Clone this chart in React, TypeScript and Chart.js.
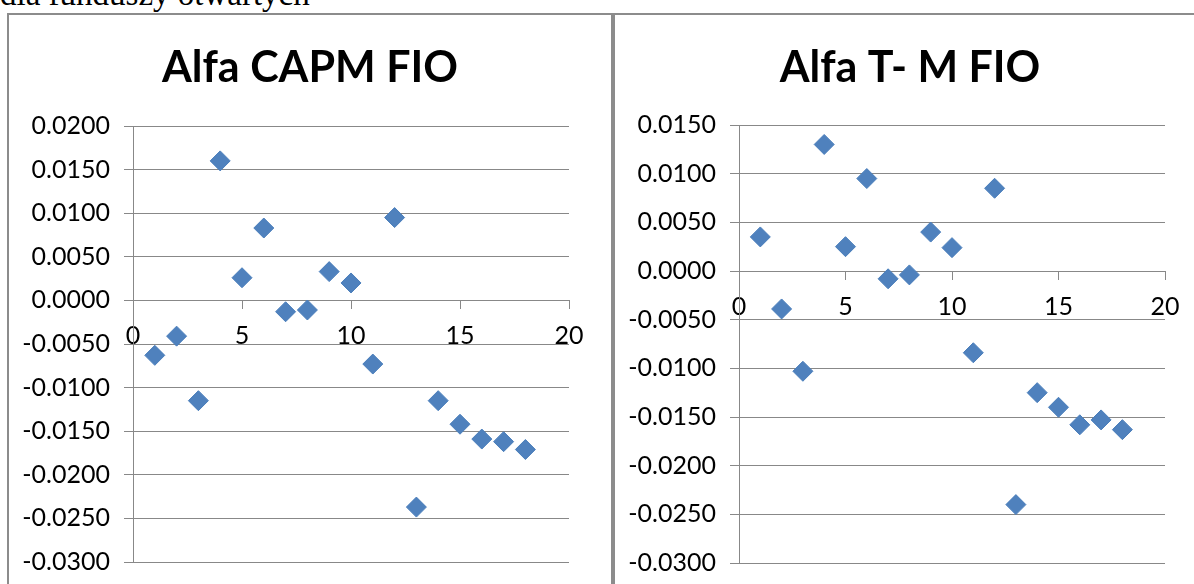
import React, { useEffect, useRef } from "react";
import { Chart, registerables } from "chart.js";

Chart.register(...registerables);

// ---- data ----
const headerText = "dla funduszy otwartych";
const capmTitle = "Alfa CAPM FIO";
const tmTitle = "Alfa T- M FIO";
const fundNumbers = [1, 2, 3, 4, 5, 6, 7, 8, 9, 10, 11, 12, 13, 14, 15, 16, 17, 18];
const capmAlpha = [
  -0.0063, -0.0041, -0.0115, 0.016, 0.0026, 0.0083, -0.0013, -0.0011, 0.0033,
  0.002, -0.0073, 0.0095, -0.0237, -0.0115, -0.0142, -0.0159, -0.0162, -0.0171,
];
const tmAlpha = [
  0.0035, -0.0039, -0.0103, 0.013, 0.0025, 0.0095, -0.0008, -0.0004, 0.004,
  0.0024, -0.0084, 0.0085, -0.024, -0.0125, -0.014, -0.0158, -0.0153, -0.0163,
];
const xAxisMin = 0;
const xAxisMax = 20;
const xAxisStep = 5;
const capmYMin = -0.03;
const capmYMax = 0.02;
const tmYMin = -0.03;
const tmYMax = 0.015;
const yAxisStep = 0.005;

const FONT = "Lato, 'Open Sans', sans-serif";
const GRID = "#888888";

type Props = {
  title: string;
  titleX: number;
  titleBaseline: number;
  values: number[];
  yMin: number;
  yMax: number;
  left: number;
  top: number;
  width: number;
  height: number;
  axisWidth: number;
  padTop: number;
  padRight: number;
  padBottom: number;
};

function fmt(v: number): string {
  const n = Math.abs(v) < 1e-10 ? 0 : v;
  return n.toFixed(4);
}

function AlphaScatter(p: Props) {
  const ref = useRef<HTMLCanvasElement>(null);
  useEffect(() => {
    if (!ref.current) return;
    const titlePlugin = {
      id: "offsetTitle",
      afterDraw(chart: any) {
        const ctx = chart.ctx;
        ctx.save();
        ctx.font = `bold 43px ${FONT}`;
        ctx.fillStyle = "#000";
        ctx.textAlign = "center";
        ctx.textBaseline = "alphabetic";
        ctx.fillText(p.title, p.titleX, p.titleBaseline);
        ctx.restore();
      },
    };
    const chart = new Chart(ref.current, {
      type: "scatter",
      data: {
        datasets: [
          {
            data: fundNumbers.map((x, i) => ({ x, y: p.values[i] })),
            pointStyle: "rectRot",
            pointRadius: 10,
            pointHoverRadius: 10,
            backgroundColor: "#4F81BD",
            borderColor: "#4A7EBB",
            borderWidth: 1,
          },
        ],
      },
      options: {
        responsive: false,
        animation: false,
        devicePixelRatio: 1,
        layout: { padding: { left: 0, right: p.padRight, top: p.padTop, bottom: p.padBottom } },
        plugins: {
          legend: { display: false },
          tooltip: { enabled: false },
          title: { display: false },
        },
        scales: {
          x: {
            type: "linear",
            position: { y: 0 } as any,
            min: xAxisMin,
            max: xAxisMax,
            ticks: {
              stepSize: xAxisStep,
              color: "#000",
              font: { family: FONT, size: 25 },
              padding: 13,
              maxRotation: 0,
              autoSkip: false,
              callback: (v: any) => String(v),
            },
            grid: { drawOnChartArea: false, drawTicks: true, tickLength: 8, color: GRID },
            border: { display: true, color: GRID },
          },
          y: {
            type: "linear",
            min: p.yMin,
            max: p.yMax,
            afterFit: (s: any) => {
              s.width = p.axisWidth;
            },
            ticks: {
              stepSize: yAxisStep,
              color: "#000",
              font: { family: FONT, size: 25 },
              padding: 14,
              autoSkip: false,
              callback: (v: any) => fmt(Number(v)),
            },
            grid: { color: GRID, tickLength: 9 },
            border: { display: true, color: GRID },
          },
        },
      },
      plugins: [titlePlugin],
    });
    return () => chart.destroy();
  }, []);
  return (
    <canvas
      ref={ref}
      width={p.width}
      height={p.height}
      style={{ position: "absolute", left: p.left, top: p.top, width: p.width, height: p.height, display: "block" }}
    />
  );
}

export default function App() {
  return (
    <div
      style={{
        position: "fixed",
        left: 0,
        top: 0,
        width: 1194,
        height: 584,
        overflow: "hidden",
        background: "#fff",
      }}
    >
      <div
        style={{
          position: "absolute",
          left: 0,
          top: -22,
          fontFamily: "'Liberation Serif', 'Times New Roman', serif",
          fontSize: 33,
          lineHeight: "33px",
          whiteSpace: "nowrap",
          color: "#000",
        }}
      >
        {headerText}
      </div>
      <div
        style={{
          position: "absolute",
          left: 7,
          top: 13,
          width: 606,
          height: 620,
          boxSizing: "border-box",
          border: "2px solid #8c8c8c",
        }}
      />
      <div
        style={{
          position: "absolute",
          left: 613,
          top: 13,
          width: 640,
          height: 620,
          boxSizing: "border-box",
          border: "2px solid #8c8c8c",
        }}
      />
      <AlphaScatter
        title={capmTitle}
        titleX={301}
        titleBaseline={67}
        values={capmAlpha}
        yMin={capmYMin}
        yMax={capmYMax}
        left={9}
        top={15}
        width={601}
        height={576}
        axisWidth={124}
        padTop={111}
        padRight={41}
        padBottom={17}
      />
      <AlphaScatter
        title={tmTitle}
        titleX={294}
        titleBaseline={67}
        values={tmAlpha}
        yMin={tmYMin}
        yMax={tmYMax}
        left={616}
        top={15}
        width={588}
        height={577}
        axisWidth={123}
        padTop={110}
        padRight={39}
        padBottom={17}
      />
    </div>
  );
}
